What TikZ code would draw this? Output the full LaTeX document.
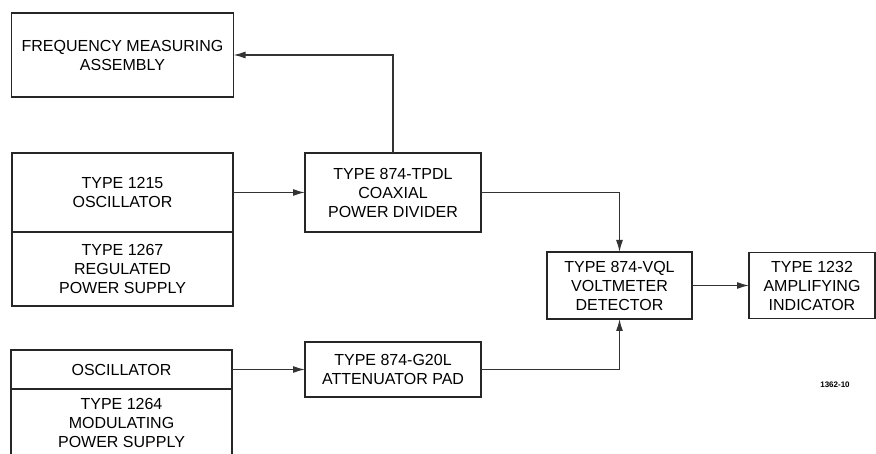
\documentclass[tikz,border=0pt]{standalone}
\usepackage{fontspec}
\usepackage{tikz}
\usetikzlibrary{positioning}
\usetikzlibrary{arrows.meta}
\newfontfamily\leroyfont{Liberation Sans}

\begin{document}
\begin{tikzpicture}
		[x=1pt, y=-1pt,
		block/.style={draw=black!85, line width=1.8pt, align=center, inner sep=0pt, outer sep=0pt,
			font=\leroyfont\fontsize{16}{19}\selectfont},
		wire/.style={draw=black!80, line width=1.3pt, -{Latex[length=12pt, width=7pt]}}]
		\useasboundingbox (0,0) rectangle (876,454);
		\node[block, minimum width=221pt, minimum height=79pt] (osc) at (122.5,192.5) {TYPE 1215\\OSCILLATOR};
		\node[block, below=0pt of osc, minimum width=221pt, minimum height=74pt] (regps) {TYPE 1267\\REGULATED\\POWER SUPPLY};
		\node[block, above=56pt of osc, minimum width=222pt, minimum height=84pt] (freq) {FREQUENCY MEASURING\\ASSEMBLY};
		\node[block, right=72pt of osc, minimum width=176pt, minimum height=79pt] (tpdl) {TYPE 874-TPDL\\COAXIAL\\POWER DIVIDER};
		\node[block, below=110pt of tpdl, minimum width=176pt, minimum height=55pt] (atten) {TYPE 874-G20L\\ATTENUATOR PAD};
		\node[block, left=73pt of atten, minimum width=221pt, minimum height=39pt] (modosc) {OSCILLATOR};
		\node[block, below=0pt of modosc, minimum width=221pt, minimum height=68pt] (modps) {TYPE 1264\\MODULATING\\POWER SUPPLY};
		\node[block, below right=20pt and 66pt of tpdl.south east, anchor=north west,
			minimum width=145pt, minimum height=67pt] (vql) {TYPE 874-VQL\\VOLTMETER\\DETECTOR};
		\node[block, right=57pt of vql, minimum width=126pt, minimum height=66pt] (amp) {TYPE 1232\\AMPLIFYING\\INDICATOR};
		\node[font=\leroyfont\bfseries\fontsize{8}{9}\selectfont] (fig) at (835,385) {1362-10};

		\draw[wire] (osc.east) -- (osc.east -| tpdl.west);
		\draw[wire] (tpdl.north) |- (freq.east);
		\draw[wire] (tpdl.east) -| (vql.north);
		\draw[wire] (modosc.east) -- (atten.west);
		\draw[wire] (atten.east) -| (vql.south);
		\draw[wire] (vql.east) -- (vql.east -| amp.west);
	\end{tikzpicture}
\end{document}
